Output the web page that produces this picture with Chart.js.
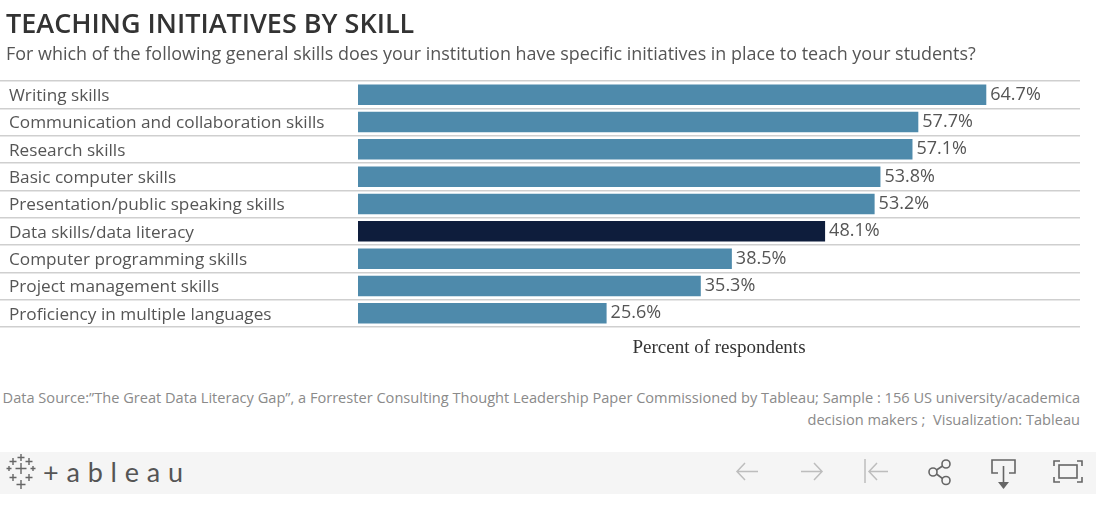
<!DOCTYPE html>
<html>
<head>
<meta charset="utf-8">
<title>Teaching initiatives by skill</title>
<script src="https://cdn.jsdelivr.net/npm/chart.js@4"></script>
<style>
    html, body { margin: 0; padding: 0; background: #fff; overflow: hidden; }
    body { width: 1096px; height: 506px; position: relative; font-family: "Open Sans", sans-serif; }
    #scoreChart { position: absolute; left: 0; top: 0; }
    .title { position: absolute; left: 6px; top: 4px; font-size: 27px; font-weight: 600; color: #333; white-space: nowrap; }
    .subtitle { position: absolute; left: 6px; top: 41px; font-size: 17.95px; color: #555; white-space: nowrap; }
    .source { position: absolute; right: 16px; top: 386px; width: 1094px; font-size: 14.6px; line-height: 22px; color: #8a8a8a; text-align: right; white-space: nowrap; }
    .toolbar { position: absolute; left: 0; top: 452px; width: 1096px; height: 42px; background: #f5f5f5; }
    .toolbar svg { position: absolute; left: 0; top: 0; }
    .logo { position: absolute; left: 43px; top: 3px; font-family: Lato, sans-serif; font-size: 27px; letter-spacing: 7.8px; color: #555; white-space: nowrap; }
</style>
</head>
<body>
<canvas id="scoreChart" width="1096" height="372"></canvas>
<div class="title">TEACHING INITIATIVES BY SKILL</div>
<div class="subtitle">For which of the following general skills does your institution have specific initiatives in place to teach your students?</div>
<div class="source">Data Source:”The Great Data Literacy Gap”, a Forrester Consulting Thought Leadership Paper Commissioned by Tableau; Sample : 156 US university/academica<br>decision makers ;&nbsp; Visualization: Tableau</div>
<div class="toolbar">
    <div class="logo">+ableau</div>
    <svg width="1096" height="42" fill="none" stroke-linecap="butt">
        <!-- logo crosses -->
        <g stroke="#666" stroke-width="1.4">
            <path d="M21 11v11M15.500 16.500h11M21 28v9M16.500 32.500h9M21 2v7M17.500 5.500h7"/>
            <path d="M13 6v7M9.500 9.500h7M29 6v7M25.500 9.500h7M13 22v7M9.500 25.500h7M29 22v7M25.500 25.500h7"/>
            <path d="M9 14v5M6.500 16.500h5M33 14v5M30.500 16.500h5"/>
        </g>
        <!-- disabled nav arrows -->
        <g stroke="#bdbdbd" stroke-width="1.5">
            <path d="M737 19.500h21M745 11l-8 8.500 8 8.500"/>
            <path d="M801 19.500h21M814 11l8 8.500-8 8.500"/>
            <path d="M865 7v24M869 19.500h19M877 11l-8 8.500 8 8.500"/>
        </g>
        <!-- share, download, fullscreen -->
        <g stroke="#666" stroke-width="1.6">
            <circle cx="933" cy="20" r="4"/><circle cx="946" cy="12" r="4"/><circle cx="946" cy="28.500" r="4"/>
            <path d="M936.500 18l6-4M936.500 22l6 4.500"/>
            <path d="M998 21h-6V8h23v13h-6M1003.500 14v17"/>
            <path d="M1054 14v-5h6M1077 9h5v5M1054 25v5h6M1077 30h5v-5"/>
            <rect x="1059" y="13" width="18" height="13"/>
        </g>
        <path d="M998 30h11l-5.500 7z" fill="#666"/>
    </svg>
</div>
<script>
const categories = [
    'Writing skills',
    'Communication and collaboration skills',
    'Research skills',
    'Basic computer skills',
    'Presentation/public speaking skills',
    'Data skills/data literacy',
    'Computer programming skills',
    'Project management skills',
    'Proficiency in multiple languages'
];
const percentValues = [64.7, 57.7, 57.1, 53.8, 53.2, 48.1, 38.5, 35.3, 25.6];
const barColors = ['#4e8aab', '#4e8aab', '#4e8aab', '#4e8aab', '#4e8aab', '#0e1d3c', '#4e8aab', '#4e8aab', '#4e8aab'];
const axisMax = 74.35;

// Writes the percent next to each bar, and the category names
// (the names sit a bit below the row centre, which ticks can't do)
const rowLabels = {
    id: 'rowLabels',
    afterDatasetsDraw(chart) {
        const ctx = chart.ctx;
        const yScale = chart.scales.y;
        const bars = chart.getDatasetMeta(0).data;
        ctx.save();
        ctx.fillStyle = '#555';
        ctx.textBaseline = 'middle';
        bars.forEach(function(bar, i) {
            ctx.font = '18px "Open Sans", sans-serif';
            ctx.fillText(percentValues[i].toFixed(1) + '%', bar.x + 4, bar.y);
            ctx.font = '17.2px "Open Sans", sans-serif';
            ctx.fillText(categories[i], yScale.left, yScale.getPixelForTick(i) + 1.5);
        });
        ctx.restore();
    }
};

new Chart(document.getElementById('scoreChart').getContext('2d'), {
    type: 'bar',
    plugins: [rowLabels],
    data: {
        labels: categories,
        datasets: [{
            data: percentValues,
            backgroundColor: barColors,
            categoryPercentage: 1,
            barPercentage: 0.75
        }]
    },
    options: {
        indexAxis: 'y',
        responsive: false,
        animation: false,
        layout: { padding: { left: 9, top: 81, right: 16 } },
        plugins: {
            legend: { display: false },
            tooltip: { enabled: false }
        },
        scales: {
            x: {
                min: 0,
                max: axisMax,
                grid: { display: false },
                border: { display: false },
                ticks: { display: false },
                title: {
                    display: true,
                    text: 'Percent of respondents',
                    color: '#333',
                    font: { family: '"Liberation Serif", serif', size: 19 },
                    padding: { top: 9, bottom: 13 }
                },
                afterFit(scale) { scale.height = 45; }
            },
            y: {
                grid: {
                    offset: true,
                    color: '#cfcfcf',
                    lineWidth: 1.5,
                    tickLength: 358,
                    tickColor: '#cfcfcf'
                },
                border: { display: false },
                ticks: { display: false },
                afterFit(scale) { scale.width = 349; }
            }
        }
    }
});
</script>
</body>
</html>
